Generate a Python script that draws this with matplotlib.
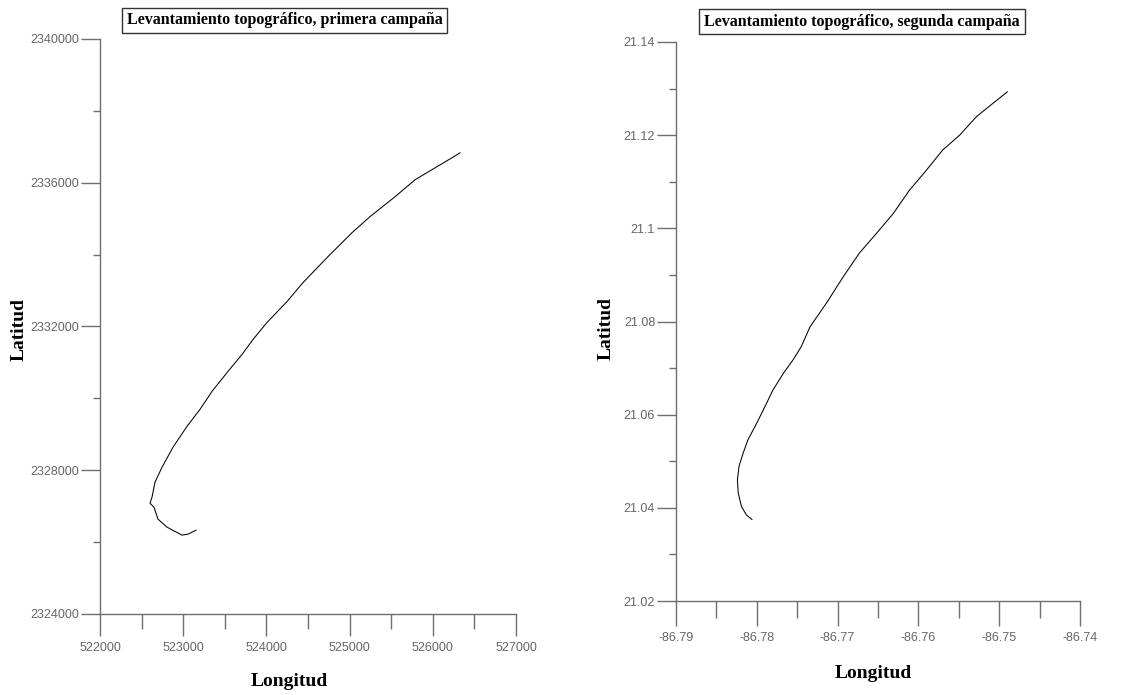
import matplotlib
matplotlib.use("Agg")
import matplotlib.pyplot as plt
from matplotlib.ticker import MultipleLocator, FuncFormatter

# ---- Data: first campaign (UTM easting / northing) ----
lon1 = [526327, 526230, 525786, 525546, 525245, 525029, 524740, 524440, 524248,
        524007, 523839, 523707, 523538, 523346, 523202, 523046, 522877, 522745,
        522661, 522625, 522601, 522649, 522697, 522805, 522986, 523058, 523154]
lat1 = [2336833, 2336694, 2336083, 2335611, 2335056, 2334611, 2333944, 2333222, 2332694,
        2332111, 2331639, 2331222, 2330750, 2330194, 2329694, 2329222, 2328639, 2328083,
        2327667, 2327250, 2327083, 2326972, 2326639, 2326417, 2326194, 2326222, 2326333]

# ---- Data: second campaign (geographic degrees) ----
lon2 = [-86.7490, -86.7508, -86.7528, -86.7549, -86.7570, -86.7590, -86.7611, -86.7631,
        -86.7652, -86.7673, -86.7693, -86.7714, -86.7734, -86.7745, -86.7755, -86.7767,
        -86.7780, -86.7790, -86.7800, -86.7811, -86.7817, -86.7822, -86.7824, -86.7823,
        -86.7819, -86.7813, -86.7806]
lat2 = [21.1293, 21.1268, 21.1240, 21.1200, 21.1168, 21.1125, 21.1082, 21.1032,
        21.0989, 21.0947, 21.0896, 21.0839, 21.0789, 21.0746, 21.0718, 21.0689,
        21.0653, 21.0617, 21.0582, 21.0546, 21.0517, 21.0489, 21.0460, 21.0432,
        21.0403, 21.0385, 21.0375]

titles = ["Levantamiento topográfico, primera campaña",
          "Levantamiento topográfico, segunda campaña"]
xlabel = "Longitud"
ylabel = "Latitud"

W, H = 1147, 695
fig = plt.figure(figsize=(W / 100, H / 100), dpi=100)

def px(x0, y0, x1, y1):
    return [x0 / W, 1 - y1 / H, (x1 - x0) / W, (y1 - y0) / H]

axis_col = "#6e6e6e"
tick_col = "#666666"

def style(ax, xmaj, xmin):
    for s in ["top", "right"]:
        ax.spines[s].set_visible(False)
    for s in ["left", "bottom"]:
        ax.spines[s].set_color(axis_col)
        ax.spines[s].set_linewidth(1.0)
    ax.tick_params(which="major", axis="y", direction="out", length=14, width=1,
                   color=axis_col, labelcolor=tick_col, labelsize=9, pad=1)
    ax.tick_params(which="minor", axis="y", direction="out", length=5, width=1,
                   color=axis_col)
    ax.tick_params(which="major", axis="x", direction="out", length=xmaj, width=1,
                   color=axis_col, labelcolor=tick_col, labelsize=9, pad=4)
    ax.tick_params(which="minor", axis="x", direction="out", length=xmin, width=1,
                   color=axis_col)
    for lab in ax.get_xticklabels() + ax.get_yticklabels():
        lab.set_fontfamily("Liberation Sans")

fmt = FuncFormatter(lambda v, p: ("%g" % round(v, 6)))
fmt_int = FuncFormatter(lambda v, p: "%d" % round(v))

# Left panel
ax1 = fig.add_axes(px(100, 39, 516, 614))
ax1.plot(lon1, lat1, color="black", lw=0.75)
ax1.set_xlim(522000, 527000)
ax1.set_ylim(2324000, 2340000)
ax1.xaxis.set_major_locator(MultipleLocator(1000))
ax1.xaxis.set_minor_locator(MultipleLocator(500))
ax1.yaxis.set_major_locator(MultipleLocator(4000))
ax1.yaxis.set_minor_locator(MultipleLocator(2000))
ax1.xaxis.set_major_formatter(fmt_int)
ax1.yaxis.set_major_formatter(fmt_int)
style(ax1, 16, 11)

# Right panel
ax2 = fig.add_axes(px(676, 42, 1080, 601))
ax2.plot(lon2, lat2, color="black", lw=0.75)
ax2.set_xlim(-86.79, -86.74)
ax2.set_ylim(21.02, 21.14)
ax2.xaxis.set_major_locator(MultipleLocator(0.01))
ax2.xaxis.set_minor_locator(MultipleLocator(0.005))
ax2.yaxis.set_major_locator(MultipleLocator(0.02))
ax2.yaxis.set_minor_locator(MultipleLocator(0.01))
ax2.xaxis.set_major_formatter(fmt)
ax2.yaxis.set_major_formatter(fmt)
style(ax2, 18, 12)

serif = "Liberation Serif"
box = dict(boxstyle="square,pad=0.3", facecolor="white", edgecolor="#333333", linewidth=1.0)
fig.text(284.5 / W, 1 - 20.5 / H, titles[0], ha="center", va="center", fontsize=11.5,
         fontweight="bold", family=serif, bbox=box)
fig.text(862 / W, 1 - 21.5 / H, titles[1], ha="center", va="center", fontsize=11.5,
         fontweight="bold", family=serif, bbox=box)

fig.text(19 / W, 1 - 330 / H, ylabel, rotation=90, ha="center", va="center",
         fontsize=14, fontweight="bold", family=serif)
fig.text(606 / W, 1 - 328 / H, ylabel, rotation=90, ha="center", va="center",
         fontsize=14, fontweight="bold", family=serif)
fig.text(289 / W, 1 - 681 / H, xlabel, ha="center", va="center",
         fontsize=14, fontweight="bold", family=serif)
fig.text(873 / W, 1 - 673 / H, xlabel, ha="center", va="center",
         fontsize=14, fontweight="bold", family=serif)

fig.savefig("out.png", dpi=100, facecolor="white")
